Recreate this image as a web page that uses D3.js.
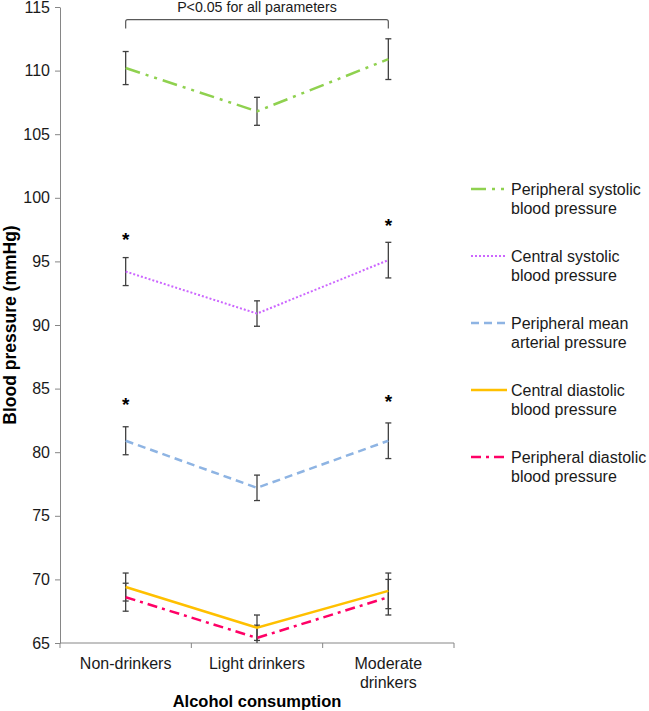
<!DOCTYPE html>
<html>
<head>
    <script src="https://d3js.org/d3.v7.min.js"></script>
    <style>
        body { margin: 0; background: #fff; }
        svg { font-family: Arial, 'Liberation Sans', sans-serif; }
    </style>
</head>
<body>
<svg width="649" height="711"></svg>
<script>
    // categories on the x axis
    const categories = ['Non-drinkers', 'Light drinkers', 'Moderate drinkers'];
    const categoryLines = [['Non-drinkers'], ['Light drinkers'], ['Moderate', 'drinkers']];

    // series means and error bar half-widths (mmHg)
    const seriesNames = [
        ['Peripheral systolic', 'blood pressure'],
        ['Central systolic', 'blood pressure'],
        ['Peripheral mean', 'arterial pressure'],
        ['Central diastolic', 'blood pressure'],
        ['Peripheral diastolic', 'blood pressure']
    ];
    const periphSystolic = [110.2, 106.8, 110.9];
    const periphSystolicErr = [1.3, 1.1, 1.6];
    const centralSystolic = [94.2, 90.9, 95.1];
    const centralSystolicErr = [1.1, 1.0, 1.4];
    const periphMean = [80.9, 77.2, 80.9];
    const periphMeanErr = [1.1, 1.0, 1.4];
    const centralDiastolic = [69.4, 66.2, 69.1];
    const centralDiastolicErr = [1.1, 1.0, 1.4];
    const periphDiastolic = [68.6, 65.4, 68.6];
    const periphDiastolicErr = [1.1, 1.0, 1.4];

    const yTicks = [65, 70, 75, 80, 85, 90, 95, 100, 105, 110, 115];

    // asterisks: [category index, y value]
    const stars = [[0, 97.0], [2, 98.1], [0, 84.0], [2, 84.3]];

    const colors = ['#8fd14f', '#cc66ff', '#8eb4e3', '#ffc000', '#ff0066'];
    const dashes = ['15,6,3,6,3,6', '2,2', '8,5', null, '10,5,3,5'];

    const series = [
        { vals: periphSystolic, err: periphSystolicErr },
        { vals: centralSystolic, err: centralSystolicErr },
        { vals: periphMean, err: periphMeanErr },
        { vals: centralDiastolic, err: centralDiastolicErr },
        { vals: periphDiastolic, err: periphDiastolicErr }
    ];

    let svg = d3.select('svg');
    let margin = { top: 7, left: 60, right: 195, bottom: 68 };
    let width = 649, height = 711;
    let innerWidth = width - margin.left - margin.right;
    let innerHeight = height - margin.top - margin.bottom;

    let g = svg.append('g')
        .attr('transform', `translate(${margin.left},${margin.top})`);

    let xScale = d3.scaleBand().domain(categories).range([0, innerWidth]);
    let yScale = d3.scaleLinear().domain([65, 115]).range([innerHeight, 0]);
    let cx = c => xScale(c) + xScale.bandwidth() / 2;

    g.append('defs').append('clipPath').attr('id', 'plot-clip')
        .append('rect').attr('x', -5).attr('y', -5)
        .attr('width', innerWidth + 10).attr('height', innerHeight + 5);

    // y axis
    let yAxis = g.append('g')
        .call(d3.axisLeft(yScale).tickValues(yTicks).tickSize(5).tickSizeOuter(0));
    yAxis.select('.domain').attr('stroke', '#868686');
    yAxis.selectAll('.tick line').attr('stroke', '#868686');
    yAxis.selectAll('.tick text').attr('font-size', 16).attr('fill', '#1a1a1a').attr('x', -10);

    // x axis, ticks between categories
    let xAxisG = g.append('g').attr('transform', `translate(0,${innerHeight})`);
    xAxisG.append('line').attr('x1', 0).attr('x2', innerWidth).attr('stroke', '#868686');
    xAxisG.selectAll('.xtick')
        .data(d3.range(categories.length + 1))
        .join('line')
        .attr('x1', i => i * xScale.bandwidth())
        .attr('x2', i => i * xScale.bandwidth())
        .attr('y1', 0).attr('y2', 5)
        .attr('stroke', '#868686');
    xAxisG.selectAll('.xlabel')
        .data(categories)
        .join('text')
        .attr('text-anchor', 'middle')
        .attr('font-size', 16)
        .attr('fill', '#1a1a1a')
        .attr('x', d => cx(d))
        .attr('y', 26)
        .each(function (d, i) {
            d3.select(this).selectAll('tspan')
                .data(categoryLines[i])
                .join('tspan')
                .attr('x', cx(d))
                .attr('dy', (t, j) => j === 0 ? 0 : 18.5)
                .text(t => t);
        });

    // axis titles
    svg.append('text')
        .attr('x', margin.left + innerWidth / 2)
        .attr('y', 707)
        .attr('text-anchor', 'middle')
        .attr('font-size', 16.5)
        .attr('font-weight', 'bold')
        .text('Alcohol consumption');
    svg.append('text')
        .attr('transform', `translate(16,${margin.top + innerHeight / 2}) rotate(-90)`)
        .attr('text-anchor', 'middle')
        .attr('font-size', 17.5)
        .attr('font-weight', 'bold')
        .text('Blood pressure (mmHg)');

    // bracket and p-value
    let bx1 = cx(categories[0]), bx2 = cx(categories[2]);
    let bTop = yScale(114.0), bEnd = yScale(113.3);
    g.append('path')
        .attr('d', `M${bx1},${bEnd} L${bx1},${bTop + 2} Q${bx1},${bTop} ${bx1 + 2},${bTop} L${bx2 - 2},${bTop} Q${bx2},${bTop} ${bx2},${bTop + 2} L${bx2},${bEnd}`)
        .attr('fill', 'none')
        .attr('stroke', '#595959')
        .attr('stroke-width', 1.2);
    g.append('text')
        .attr('x', (bx1 + bx2) / 2)
        .attr('y', 4.5)
        .attr('text-anchor', 'middle')
        .attr('font-size', 14.2)
        .attr('fill', '#1a1a1a')
        .text('P<0.05 for all parameters');

    // lines
    let line = d3.line().x((d, i) => cx(categories[i])).y(d => yScale(d));
    let plot = g.append('g').attr('clip-path', 'url(#plot-clip)');

    series.forEach((s, k) => {
        // error bars
        let eb = plot.append('g');
        s.vals.forEach((v, i) => {
            let x = cx(categories[i]);
            let y1 = yScale(v + s.err[i]), y2 = yScale(v - s.err[i]);
            eb.append('line').attr('x1', x).attr('x2', x).attr('y1', y1).attr('y2', y2);
            eb.append('line').attr('x1', x - 3).attr('x2', x + 3).attr('y1', y1).attr('y2', y1);
            eb.append('line').attr('x1', x - 3).attr('x2', x + 3).attr('y1', y2).attr('y2', y2);
        });
        eb.selectAll('line').attr('stroke', '#404040').attr('stroke-width', 1.3);
    });

    series.forEach((s, k) => {
        plot.append('path')
            .datum(s.vals)
            .attr('d', line)
            .attr('fill', 'none')
            .attr('stroke', colors[k])
            .attr('stroke-width', k === 1 ? 2 : 2.5)
            .attr('stroke-dasharray', dashes[k]);
    });

    // asterisks
    g.selectAll('.star')
        .data(stars)
        .join('text')
        .attr('x', d => cx(categories[d[0]]))
        .attr('y', d => yScale(d[1]) + 10)
        .attr('text-anchor', 'middle')
        .attr('font-size', 19)
        .attr('font-weight', 'bold')
        .text('*');

    // legend
    let legend = svg.append('g').attr('transform', 'translate(471,189)');
    seriesNames.forEach((name, k) => {
        let lg = legend.append('g').attr('transform', `translate(0,${k * 67})`);
        lg.append('line')
            .attr('x1', 0).attr('x2', 36).attr('y1', 0).attr('y2', 0)
            .attr('stroke', colors[k])
            .attr('stroke-width', k === 1 ? 2 : 2.5)
            .attr('stroke-dasharray', dashes[k]);
        lg.append('text')
            .attr('x', 40)
            .attr('y', 5.5)
            .attr('font-size', 16)
            .attr('fill', '#1a1a1a')
            .selectAll('tspan')
            .data(name)
            .join('tspan')
            .attr('x', 40)
            .attr('dy', (t, j) => j === 0 ? 0 : 19)
            .text(t => t);
    });
</script>
</body>
</html>
